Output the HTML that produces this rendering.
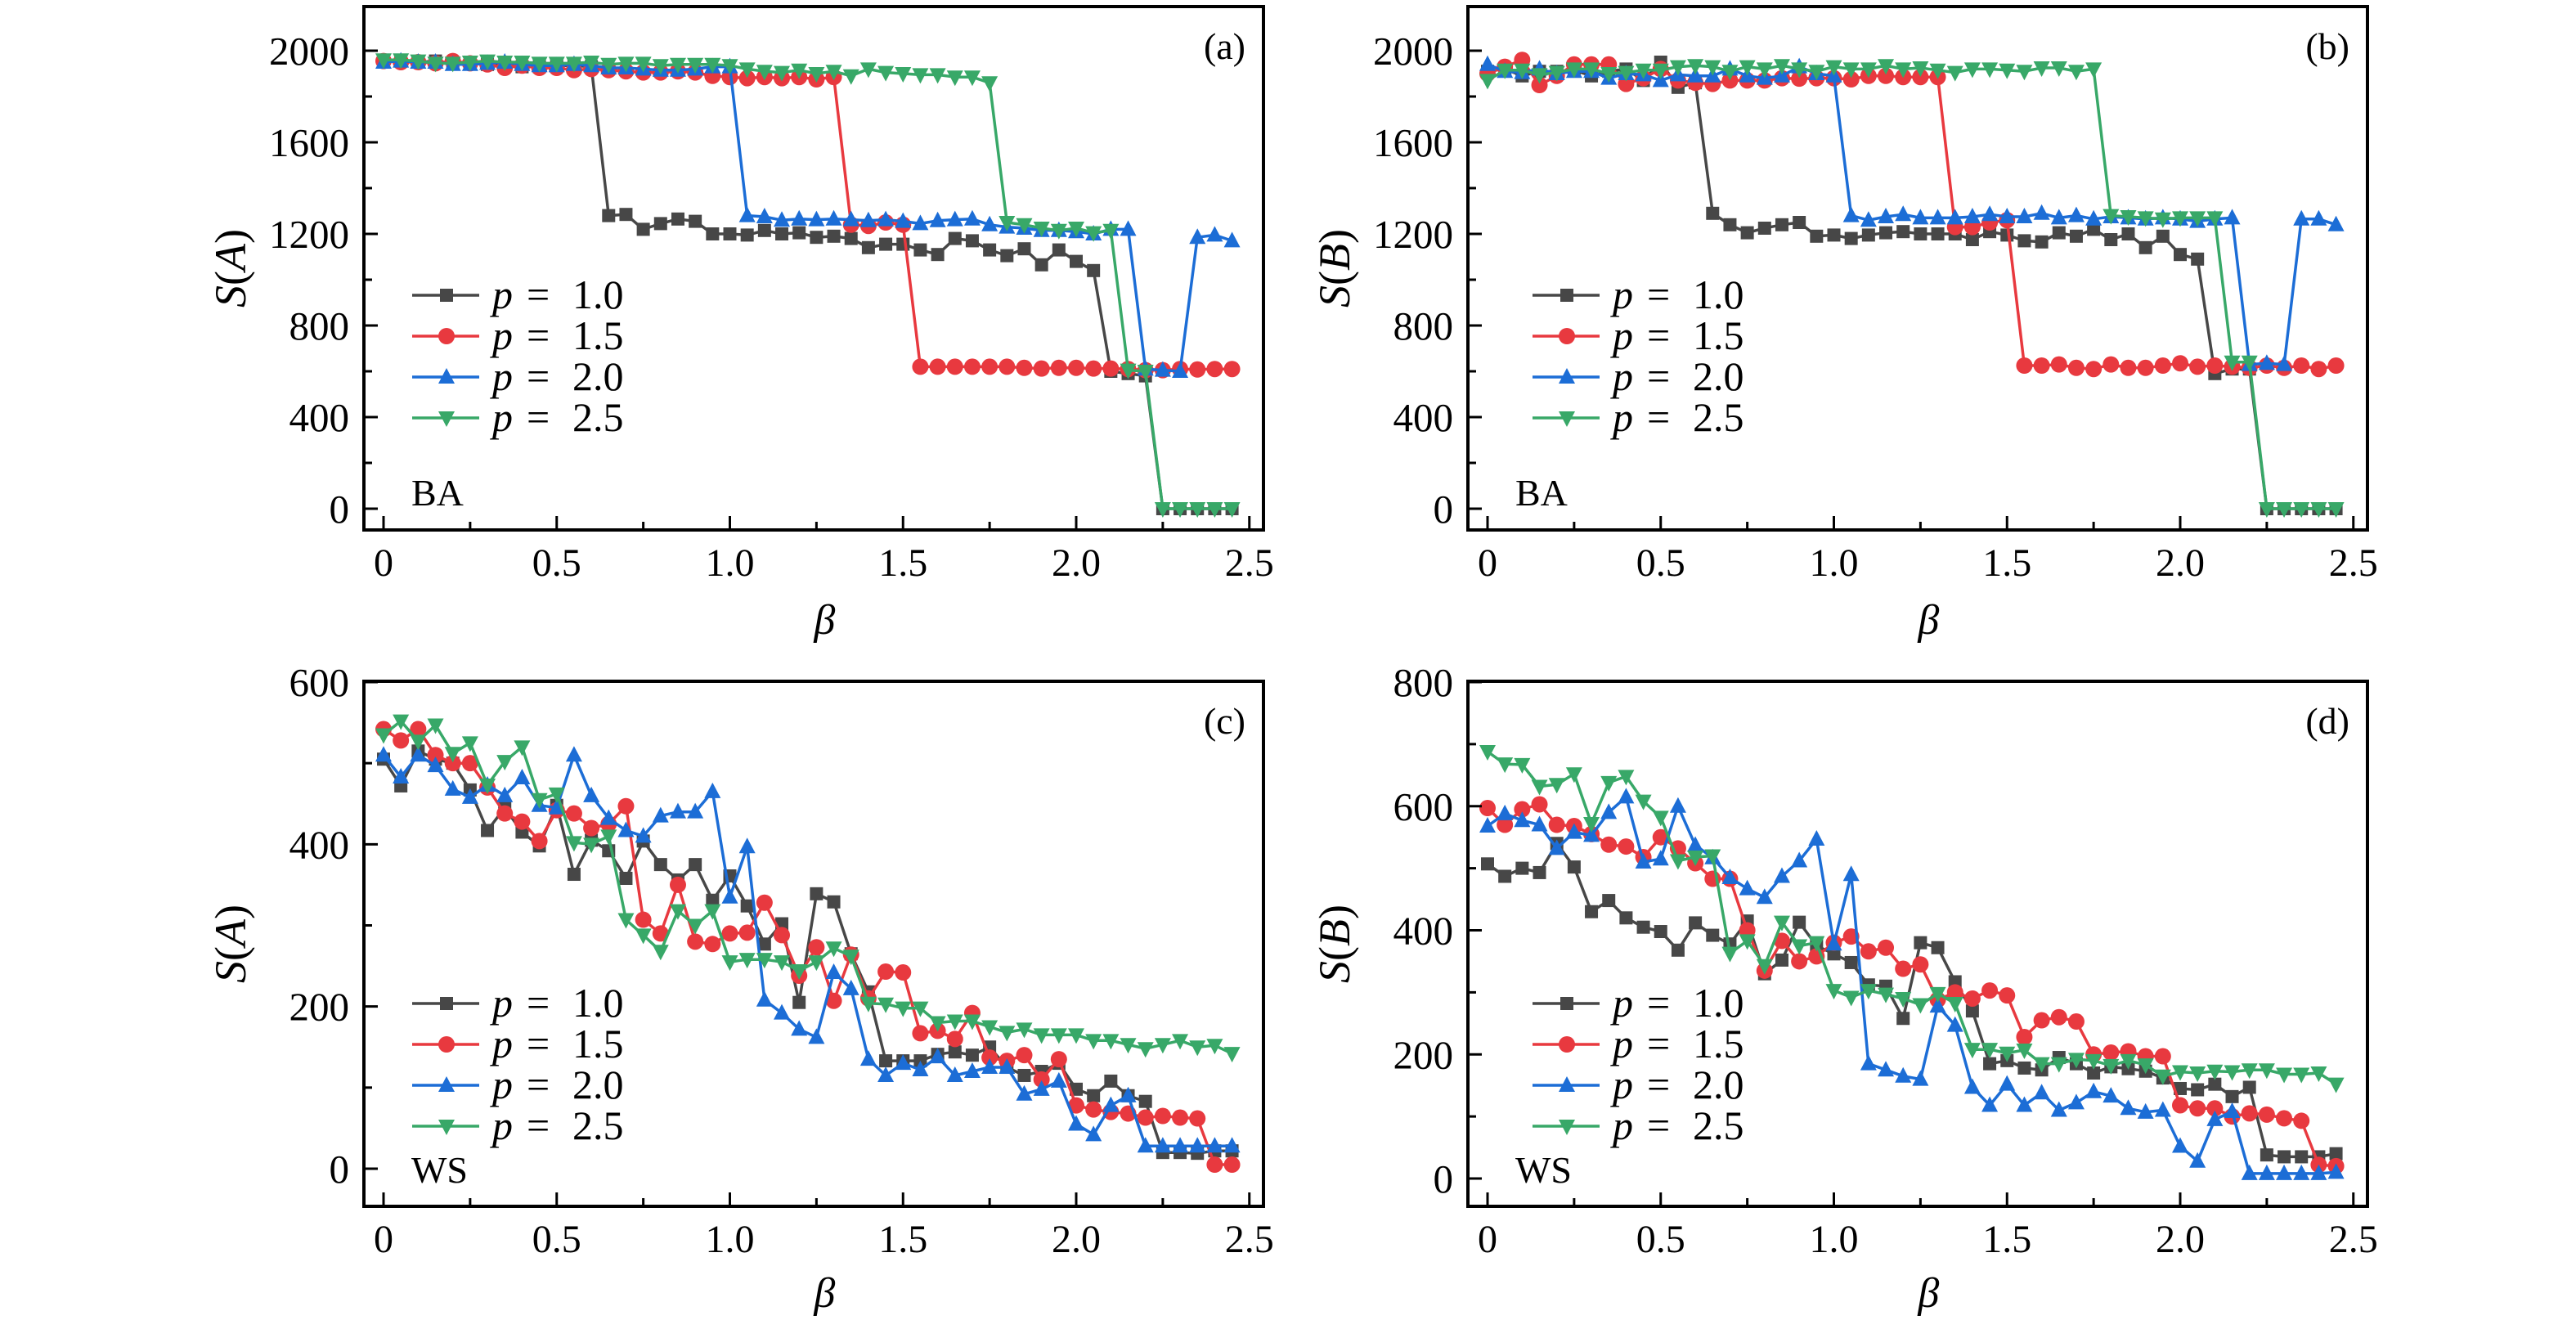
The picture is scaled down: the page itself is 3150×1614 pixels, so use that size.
<!DOCTYPE html>
<html><head><meta charset="utf-8">
<style>
html,body{margin:0;padding:0;background:#fff;}
svg{display:block;}
text{font-family:"Liberation Serif",serif;fill:#000;}
</style></head>
<body>
<svg id="fig" width="3150" height="1614" viewBox="0 0 3150 1614" xmlns="http://www.w3.org/2000/svg"></svg>
<script>
const betas = [];
for (let i = 0; i < 50; i++) betas.push(+(i * 0.05).toFixed(2));
const seriesLabels = ["p = 1.0", "p = 1.5", "p = 2.0", "p = 2.5"];
const xTicks = [0, 0.5, 1.0, 1.5, 2.0, 2.5];
const xTickLabels = ["0", "0.5", "1.0", "1.5", "2.0", "2.5"];
const baTicks = [0, 400, 800, 1200, 1600, 2000];
const wsATicks = [0, 200, 400, 600];
const wsBTicks = [0, 200, 400, 600, 800];

const aP10 = [1955,1955,1950,1955,1945,1945,1940,1935,1930,1930,1935,1935,1930,1280,1285,1220,1245,1265,1255,1200,1200,1195,1215,1200,1205,1185,1190,1180,1140,1155,1155,1130,1110,1180,1170,1130,1105,1135,1065,1130,1080,1040,600,590,580,0,0,0,0,0];
const aP15 = [1955,1950,1950,1945,1955,1945,1940,1925,1935,1925,1925,1915,1920,1915,1910,1905,1905,1910,1905,1890,1885,1880,1885,1880,1885,1875,1885,1240,1235,1250,1240,620,620,620,620,620,620,615,612,615,615,612,612,610,605,605,610,608,610,610];
const aP20 = [1950,1955,1950,1950,1940,1940,1945,1950,1940,1935,1935,1940,1935,1925,1925,1920,1915,1915,1920,1930,1930,1280,1275,1260,1265,1262,1265,1262,1258,1262,1255,1245,1258,1262,1265,1240,1230,1225,1215,1215,1210,1200,1220,1220,610,605,600,1185,1195,1170];
const aP25 = [1960,1960,1955,1945,1945,1950,1955,1950,1950,1945,1945,1945,1950,1940,1945,1945,1935,1940,1940,1940,1935,1920,1910,1905,1915,1900,1910,1890,1920,1905,1900,1895,1895,1885,1885,1860,1250,1240,1225,1215,1225,1205,1215,605,600,0,0,0,0,0];

const bP10 = [1910,1920,1890,1910,1910,1915,1890,1910,1920,1870,1950,1840,1860,1290,1240,1205,1225,1240,1250,1190,1195,1180,1195,1205,1210,1200,1200,1200,1175,1210,1195,1170,1165,1205,1190,1220,1175,1200,1140,1190,1110,1090,590,610,610,0,0,0,0,0];
const bP15 = [1900,1930,1960,1850,1890,1940,1940,1940,1855,1880,1920,1870,1860,1855,1870,1870,1870,1880,1878,1880,1880,1875,1890,1890,1885,1885,1885,1230,1230,1250,1260,625,625,630,615,610,630,615,615,625,635,620,625,620,615,625,615,625,610,625];
const bP20 = [1940,1910,1905,1920,1900,1910,1910,1880,1900,1895,1870,1895,1890,1890,1920,1890,1880,1890,1930,1900,1890,1280,1260,1275,1285,1270,1270,1270,1275,1285,1275,1275,1290,1270,1280,1265,1275,1270,1265,1270,1265,1255,1265,1270,630,635,630,1265,1265,1240];
const bP25 = [1870,1915,1915,1895,1905,1920,1920,1900,1905,1915,1915,1930,1935,1930,1910,1930,1920,1935,1920,1910,1930,1920,1920,1935,1920,1925,1915,1905,1920,1920,1915,1910,1925,1925,1910,1920,1280,1275,1270,1265,1270,1270,1270,640,640,0,0,0,0,0];

const cP10 = [505,472,515,505,500,467,417,445,415,398,448,363,405,392,358,404,375,356,375,331,361,324,277,302,205,339,329,265,218,133,133,133,141,144,140,150,125,115,120,130,98,90,108,90,83,20,20,19,22,22];
const cP15 = [542,528,542,510,500,500,470,438,428,404,442,438,420,425,447,307,290,350,280,277,290,291,328,288,238,273,207,264,210,243,242,167,170,160,192,137,133,140,110,135,78,73,70,68,63,65,63,62,5,5];
const cP20 = [510,483,510,497,468,458,473,460,482,448,445,510,460,432,417,410,435,440,440,465,335,397,208,192,172,162,242,222,135,115,130,122,138,115,120,125,125,92,98,108,55,42,78,90,28,28,28,28,28,28];
const cP25 = [535,552,527,547,512,525,473,502,520,455,462,402,400,410,307,288,268,318,300,318,255,258,258,255,244,255,272,262,204,203,198,198,180,182,182,175,168,172,165,165,165,158,158,153,148,153,158,150,152,142];

const dP10 = [507,487,500,493,540,502,430,448,420,405,398,368,412,392,378,415,330,352,413,375,362,348,312,310,258,380,372,317,270,185,190,178,175,195,185,170,180,177,173,162,145,143,152,132,147,38,35,35,35,40];
const dP15 = [597,570,595,603,570,568,555,538,535,518,550,532,508,483,483,400,335,383,350,358,380,390,366,372,338,345,288,300,290,303,295,228,255,260,253,200,203,205,197,197,118,113,113,100,105,103,97,93,22,20];
const dP20 = [568,588,577,570,532,558,553,590,615,510,515,600,537,517,485,467,453,487,512,547,378,490,185,175,165,160,278,247,147,118,152,118,138,110,122,140,133,113,107,110,52,28,95,108,8,8,8,8,8,10];
const dP25 = [688,668,667,632,635,652,572,638,648,608,582,512,518,520,363,383,343,413,375,380,303,292,303,297,290,280,298,282,208,208,202,207,185,185,192,190,182,190,183,165,172,170,173,172,175,175,168,168,170,152];

const COLORS = ["#474747", "#e8393f", "#1c6dd6", "#38a868"];
const MARKERS = ["square", "circle", "up", "down"];
const NS = "http://www.w3.org/2000/svg";
const svg = document.getElementById("fig");

function mk(tag, attrs, parent) {
  const e = document.createElementNS(NS, tag);
  for (const k in attrs) e.setAttribute(k, attrs[k]);
  (parent || svg).appendChild(e);
  return e;
}

function marker(kind, cx, cy, color, g) {
  let e;
  if (kind === "square") {
    e = mk("rect", {x: cx - 8, y: cy - 8, width: 16, height: 16, fill: color}, g);
  } else if (kind === "circle") {
    e = mk("circle", {cx: cx, cy: cy, r: 10, fill: color}, g);
  } else if (kind === "up") {
    e = mk("polygon", {points: `${cx},${cy-11} ${cx-10},${cy+8} ${cx+10},${cy+8}`, fill: color}, g);
  } else {
    e = mk("polygon", {points: `${cx},${cy+11} ${cx-10},${cy-8} ${cx+10},${cy-8}`, fill: color}, g);
  }
  return e;
}

function panel(cfg) {
  const g = mk("g", {});
  
  
  const ox = cfg.ox;
  const L = 445 + ox, R = 1545 + ox, T = cfg.top, B = cfg.bottom;
  const x0 = 469 + ox, xu = 423.5;
  const X = v => x0 + v * xu;
  const Y = v => cfg.y0 + (cfg.yTop - cfg.y0) * (v / cfg.yTopVal);

  cfg.series.forEach((vals, si) => {
    const sg = mk("g", {}, g);
    
    
    const pts = vals.map((v, i) => `${X(betas[i]).toFixed(1)},${Y(v).toFixed(1)}`).join(" ");
    const pl = mk("polyline", {points: pts, fill: "none", stroke: COLORS[si], "stroke-width": 3.5, "stroke-linejoin": "round"}, sg);
    
    
    vals.forEach((v, i) => {
      const m = marker(MARKERS[si], X(betas[i]), Y(v), COLORS[si], sg);
      
      
    });
  });

  const fr = mk("rect", {x: L, y: T, width: R - L, height: B - T, fill: "none", stroke: "#000", "stroke-width": 4}, g);
  
  

  xTicks.forEach((t, i) => {
    const x = X(t);
    mk("line", {x1: x, y1: B, x2: x, y2: B - 17, stroke: "#000", "stroke-width": 3}, g);
    if (t + 0.25 < 2.55) {
      const xm = X(t + 0.25);
      if (xm < R) mk("line", {x1: xm, y1: B, x2: xm, y2: B - 10, stroke: "#000", "stroke-width": 3}, g);
    }
    const lb = mk("text", {x: x, y: B + 56, "font-size": 48, "text-anchor": "middle"}, g);
    lb.textContent = xTickLabels[i];
    
    
  });
  const yt = cfg.yTicks;
  const step = yt[1] - yt[0];
  yt.forEach((t) => {
    const y = Y(t);
    mk("line", {x1: L, y1: y, x2: L + 17, y2: y, stroke: "#000", "stroke-width": 3}, g);
    const ym = Y(t + step / 2);
    if (ym > T + 5) mk("line", {x1: L, y1: ym, x2: L + 10, y2: ym, stroke: "#000", "stroke-width": 3}, g);
    const lb = mk("text", {x: L - 18, y: y + 17, "font-size": 49, "text-anchor": "end"}, g);
    lb.textContent = String(t);
    
    
  });

  const xl = mk("text", {x: X(1.25) + 10, y: cfg.xlabY, "font-size": 52, "font-style": "italic", "text-anchor": "middle"}, g);
  xl.textContent = "β";
  
  
  const cy = (T + B) / 2;
  const yl = mk("text", {x: 0, y: 0, "font-size": 54, "text-anchor": "middle", transform: `translate(${300 + ox},${cy}) rotate(-90)`}, g);
  yl.innerHTML = `<tspan font-style="italic">S</tspan>(<tspan font-style="italic">${cfg.ylet}</tspan>)`;
  
  

  const pl = mk("text", {x: R - 22, y: T + 64, "font-size": 46, "text-anchor": "end"}, g);
  pl.textContent = cfg.tag;
  
  
  const nl = mk("text", {x: L + 58, y: cfg.netY, "font-size": 46}, g);
  nl.textContent = cfg.net;
  
  

  const lg = mk("g", {}, g);
  
  
  const lx = L + cfg.legDx;
  cfg.legRows.forEach((ry, si) => {
    const eg = mk("g", {}, lg);
    
    
    mk("line", {x1: lx, y1: ry, x2: lx + 82, y2: ry, stroke: COLORS[si], "stroke-width": 3.5}, eg);
    marker(MARKERS[si], lx + 42, ry, COLORS[si], eg);
    const parts = seriesLabels[si].split(" = ");
    const t1 = mk("text", {x: lx + 98, y: ry + 16, "font-size": 50, "font-style": "italic"}, eg);
    t1.textContent = parts[0];
    const t2 = mk("text", {x: lx + 140, y: ry + 16, "font-size": 50}, eg);
    t2.textContent = "=";
    const t3 = mk("text", {x: lx + 196, y: ry + 16, "font-size": 50}, eg);
    t3.textContent = parts[1];
  });
}

panel({name: "panel-a", ox: 0, top: 8, bottom: 648, y0: 622, yTop: 62, yTopVal: 2000, yTicks: baTicks, ylet: "A", tag: "(a)", net: "BA", netY: 618, xlabY: 775, legDx: 59, legRows: [361, 411, 461, 511], series: [aP10, aP15, aP20, aP25]});
panel({name: "panel-b", ox: 1350, top: 8, bottom: 648, y0: 622, yTop: 62, yTopVal: 2000, yTicks: baTicks, ylet: "B", tag: "(b)", net: "BA", netY: 618, xlabY: 775, legDx: 79, legRows: [361, 411, 461, 511], series: [bP10, bP15, bP20, bP25]});
panel({name: "panel-c", ox: 0, top: 833, bottom: 1475, y0: 1429, yTop: 834, yTopVal: 600, yTicks: wsATicks, ylet: "A", tag: "(c)", net: "WS", netY: 1446, xlabY: 1598, legDx: 59, legRows: [1227, 1277, 1327, 1377], series: [cP10, cP15, cP20, cP25]});
panel({name: "panel-d", ox: 1350, top: 833, bottom: 1475, y0: 1441, yTop: 834, yTopVal: 800, yTicks: wsBTicks, ylet: "B", tag: "(d)", net: "WS", netY: 1446, xlabY: 1598, legDx: 79, legRows: [1227, 1277, 1327, 1377], series: [dP10, dP15, dP20, dP25]});
</script>
</body></html>
